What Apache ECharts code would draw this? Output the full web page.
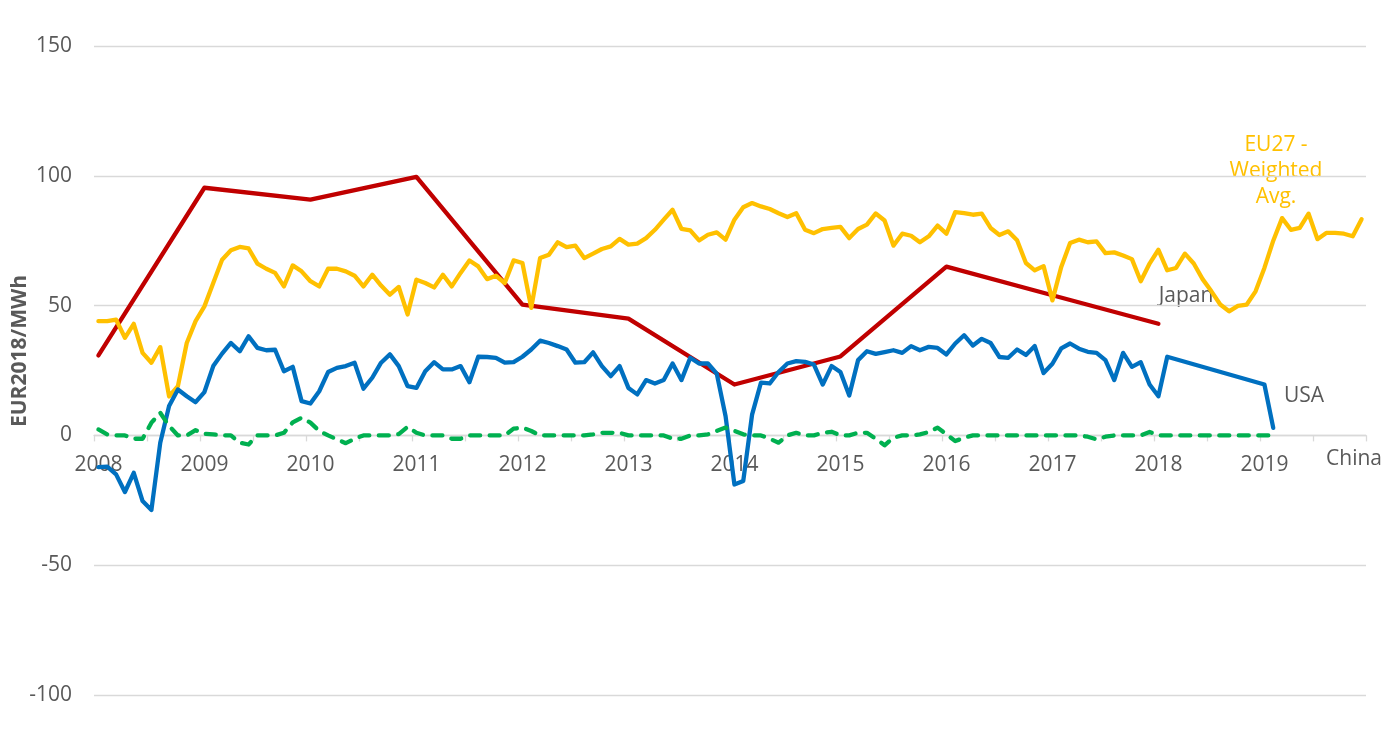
<!DOCTYPE html>
<html>
<head>
<meta charset="utf-8">
<script src="https://cdn.jsdelivr.net/npm/echarts@6/dist/echarts.min.js"></script>
<style>
html,body{margin:0;padding:0;background:#fff;}
#c{width:1398px;height:744px;}
</style>
</head>
<body>
<div id="c"></div>
<script>
// ---- categories: monthly, Jan 2008 .. Dec 2019 ----
var years = [2008, 2009, 2010, 2011, 2012, 2013, 2014, 2015, 2016, 2017, 2018, 2019];
var months = ['01','02','03','04','05','06','07','08','09','10','11','12'];
var categories = [];
years.forEach(function (y) { months.forEach(function (m) { categories.push(y + '-' + m); }); });

// ---- y axis ticks ----
var yMin = -100, yMax = 150, yStep = 50;

// ---- EU27 - Weighted Avg. (monthly) ----
var eu27 = [
  44, 44, 44.6, 37.6, 43, 31.8, 28, 34, 15, 19, 35.6, 44,
  49.7, 58.7, 67.7, 71.3, 72.6, 72, 66.2, 64.2, 62.6, 57.4, 65.5, 63.2,
  59.4, 57.4, 64.2, 64.2, 63.2, 61.5, 57.4, 61.9, 57.7, 54.2, 57.2, 46.6,
  60, 58.7, 57, 61.9, 57.4, 62.6, 67.4, 65.1, 60.2, 61.5, 58.7, 67.4,
  66.4, 49.1, 68.3, 69.6, 74.4, 72.5, 73.1, 68.3, 70, 71.8, 72.8, 75.7,
  73.5, 73.9, 76, 79.2, 83.1, 86.9, 79.6, 79, 75.1, 77.3, 78.2, 75.4,
  83.1, 87.9, 89.5, 88.2, 87.2, 85.6, 84.1, 85.6, 79.2, 77.9, 79.5, 79.9,
  80.3, 76, 79.5, 81.2, 85.5, 82.8, 73.1, 77.7, 76.9, 74.4, 76.7, 80.8,
  77.7, 86, 85.6, 85, 85.4, 79.9, 77.2, 78.6, 75.2, 66.4, 63.6, 65.2,
  52, 64.9, 74.1, 75.4, 74.4, 74.7, 70.2, 70.5, 69.3, 67.9, 59.4, 66.2,
  71.5, 63.6, 64.5, 70, 66.2, 60.2, 55.5, 50.4, 47.8, 49.9, 50.4, 55.5,
  64.5, 75, 83.7, 79.2, 79.9, 85.4, 75.6, 78, 78, 77.7, 76.7, 83.3
];

// ---- USA (monthly, gaps bridged) ----
var usa = [
  -12.2, -12, -15, -21.8, -14.4, -25.3, -28.7, -2.8, 11.3, 17.7, 15.1, 12.8,
  16.7, 26.7, 31.5, 35.6, 32.4, 38.2, 33.7, 32.8, 33, 24.7, 26.4, 13.2,
  12.3, 17, 24.4, 26, 26.7, 28, 18, 22.2, 28, 31.2, 26.7, 19,
  18.3, 24.7, 28.2, 25.4, 25.4, 26.7, 20.5, 30.3, 30.2, 29.9, 28, 28.2,
  30.3, 33.1, 36.5, 35.6, 34.4, 33.1, 28, 28.2, 32, 26.7, 22.8, 26.7,
  18.3, 15.8, 21.3, 20, 21.3, 27.7, 21.3, 29.9, 27.7, 27.7, 23.8, 7.4,
  -18.9, -17.6, 8, 20.3, 20, 24.4, 27.7, 28.6, 28.3, 27.3, 19.6, 26.7,
  24.4, 15.4, 29, 32.4, 31.4, 32.1, 32.8, 31.8, 34.4, 32.8, 34.1, 33.7,
  31.2, 35.4, 38.6, 34.6, 37.2, 35.6, 30.2, 29.9, 33.1, 31, 34.4, 24,
  27.6, 33.5, 35.4, 33.4, 32.2, 31.8, 29, 21.3, 31.8, 26.4, 28.2, 19.6,
  15.1, 30.3, null, null, null, null, null, null, null, null, null, null,
  19.6, 2.9, null, null, null, null, null, null, null, null, null, null
];

// ---- China (monthly) ----
var china = [
  2.3, 0.4, 0, 0, -1.3, -1.3, 4.9, 8.7, 3.6, 0, 0, 2,
  0.6, 0.4, 0, 0, -2.8, -3.5, 0, 0, 0, 1, 5, 6.8,
  4.9, 1.7, 0, -1.5, -3, -1.3, 0, 0, 0, 0, 0.5, 3.3,
  1, 0, 0, 0, -1.3, -1.3, 0, 0, 0, 0, 0, 2.6,
  3, 1.7, 0, 0, 0, 0, 0, 0, 0.4, 1, 1, 1,
  0, 0, 0, 0, 0, -1.3, -1.3, 0, 0, 0.4, 1.7, 3,
  1.7, 0.4, 0, 0, -1.3, -2.8, 0, 1, 0, 0, 1, 1.4,
  0, 0, 1, 1, -1.3, -3.8, -0.9, 0, 0, 0.4, 1.3, 3,
  0.4, -2.2, -0.9, 0, 0, 0, 0, 0, 0, 0, 0, 0,
  0, 0, 0, 0, -0.5, -1.5, -0.5, 0, 0, 0, 0, 1.3,
  0, 0, 0, 0, 0, 0, 0, 0, 0, 0, 0, 0,
  0, 0, null, null, null, null, null, null, null, null, null, null
];

// ---- Japan (annual values, placed on January of each year) ----
var japanYears = [2008, 2009, 2010, 2011, 2012, 2013, 2014, 2015, 2016, 2017, 2018];
var japanValues = [30.8, 95.4, 90.8, 99.6, 50.4, 45, 19.6, 30.4, 65, 54, 43];

var japan = categories.map(function (c) {
  var k = japanYears.indexOf(+c.slice(0, 4));
  return (c.slice(5) === '01' && k >= 0) ? japanValues[k] : null;
});

var FONT = '"Open Sans", "Noto Sans", sans-serif';
var GREY = '#595959';

var W = 1398, H = 744;
var gridTop = 46, gridBottom = 49;
var plotH = H - gridTop - gridBottom;
// place the category axis on the value 0 line
var xAxisOffset = -plotH * (0 - yMin) / (yMax - yMin);

var chart = echarts.init(document.getElementById('c'), null, { renderer: 'canvas' });
chart.setOption({
  animation: false,
  backgroundColor: '#ffffff',
  grid: { left: 94, right: 32, top: gridTop, bottom: gridBottom, containLabel: false },
  xAxis: {
    type: 'category',
    data: categories,
    boundaryGap: true,
    position: 'bottom',
    offset: xAxisOffset,
    axisLine: { onZero: false, lineStyle: { color: '#d9d9d9', width: 1.3 } },
    axisTick: { show: true, interval: 5, length: 6, lineStyle: { color: '#d9d9d9', width: 1.3 } },
    axisLabel: {
      interval: 11,
      margin: 19,
      color: GREY,
      fontFamily: FONT,
      fontSize: 21,
      formatter: function (v) { return v.slice(0, 4); }
    },
    splitLine: { show: false }
  },
  yAxis: {
    type: 'value',
    min: yMin, max: yMax, interval: yStep,
    axisLine: { show: false },
    axisTick: { show: false },
    axisLabel: { color: GREY, fontFamily: FONT, fontSize: 21, margin: 22 },
    splitLine: { lineStyle: { color: '#d9d9d9', width: 1.3 } }
  },
  series: [
    {
      name: 'Japan', type: 'line', data: japan, connectNulls: true,
      showSymbol: false, symbol: 'none',
      lineStyle: { color: '#C00000', width: 4.3, join: 'round', cap: 'round' },
      z: 2
    },
    {
      name: 'EU27 - Weighted Avg.', type: 'line', data: eu27,
      showSymbol: false, symbol: 'none',
      lineStyle: { color: '#FFC000', width: 4.3, join: 'round', cap: 'round' },
      z: 3
    },
    {
      name: 'USA', type: 'line', data: usa, connectNulls: true,
      showSymbol: false, symbol: 'none',
      lineStyle: { color: '#0070C0', width: 4.3, join: 'round', cap: 'round' },
      z: 4
    },
    {
      name: 'China', type: 'line', data: china,
      showSymbol: false, symbol: 'none',
      lineStyle: { color: '#00B050', width: 4.3, type: [10, 9.5], cap: 'round', join: 'round' },
      z: 5
    }
  ],
  graphic: [
    {
      type: 'text', x: 20, y: 351, rotation: Math.PI / 2,
      style: { text: 'EUR2018/MWh', fill: GREY, font: 'bold 21px ' + FONT, align: 'center', verticalAlign: 'middle' }
    },
    {
      type: 'text', x: 1276, y: 171,
      style: { text: 'EU27 -\nWeighted\nAvg.', fill: '#FFC000', font: '21px ' + FONT, lineHeight: 26, align: 'center', verticalAlign: 'middle' }
    },
    {
      type: 'text', x: 1186, y: 296,
      style: { text: 'Japan', fill: GREY, font: '21px ' + FONT, align: 'center', verticalAlign: 'middle' }
    },
    {
      type: 'text', x: 1304, y: 396,
      style: { text: 'USA', fill: GREY, font: '21px ' + FONT, align: 'center', verticalAlign: 'middle' }
    },
    {
      type: 'text', x: 1354, y: 459,
      style: { text: 'China', fill: GREY, font: '21px ' + FONT, align: 'center', verticalAlign: 'middle' }
    }
  ]
});
</script>
</body>
</html>
